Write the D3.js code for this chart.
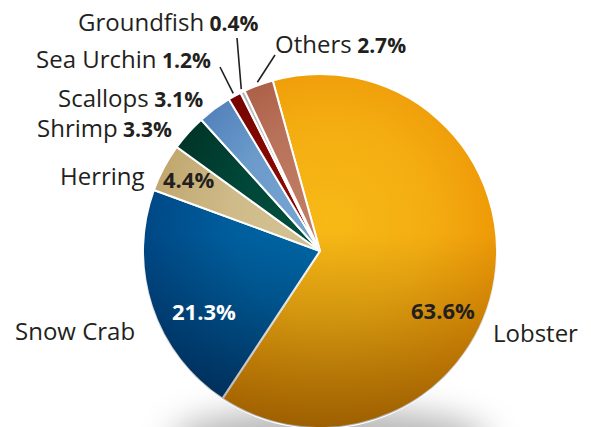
<!DOCTYPE html>
<html lang="en">
<head>
<meta charset="utf-8">
<title>Landed value by species</title>
<script src="https://d3js.org/d3.v7.min.js"></script>
<style>
  body { margin: 0; background: #fff; }
  svg { display: block; }
  text { font-family: "Open Sans", sans-serif; fill: #231f20; }
</style>
</head>
<body>
<svg id="chart" width="591" height="427"></svg>
<script>
// data (share of total, %)
const species = ["Lobster", "Snow Crab", "Herring", "Shrimp", "Scallops", "Sea Urchin", "Groundfish", "Others"];
const shares = [63.6, 21.3, 4.4, 3.3, 3.1, 1.2, 0.4, 2.7];

// slice colours: light centre and darker rim
const lightColors = ["#f7b916", "#0068a8", "#d6c597", "#00503f", "#7aa8d4", "#8c0a00", "#cccccc", "#c27f66"];
const darkColors  = ["#e98a00", "#003f7c", "#b89c60", "#00281f", "#3f6eae", "#680000", "#a9a9a9", "#9f4b34"];

// where the labels sit
const labelLayout = {
  "Lobster":    { nx: 493, ny: 342, vx: 411, vy: 319, vfill: "#231f20" },
  "Snow Crab":  { nx: 15,  ny: 340, vx: 172, vy: 320, vfill: "#ffffff" },
  "Herring":    { nx: 60,  ny: 185, vx: 163, vy: 188, vfill: "#231f20" },
  "Shrimp":     { nx: 37,  ny: 137, inline: true },
  "Scallops":   { nx: 58,  ny: 107, inline: true },
  "Sea Urchin": { nx: 36,  ny: 68,  inline: true, lx: 220, ly: 67 },
  "Groundfish": { nx: 78,  ny: 31,  inline: true, lx: 237, ly: 38 },
  "Others":     { nx: 275, ny: 53,  inline: true, lx: 275, ly: 55 }
};

const svg = d3.select("#chart");
const cx = 320, cy = 251, radius = 177;
const start = -15.5 * Math.PI / 180;

const defs = svg.append("defs");

// soft shadow under the pie
defs.append("filter").attr("id", "blur")
  .attr("x", "-50%").attr("y", "-50%").attr("width", "200%").attr("height", "200%")
  .append("feGaussianBlur").attr("stdDeviation", 16);

svg.append("ellipse")
  .attr("cx", cx + 10).attr("cy", cy + radius + 12)
  .attr("rx", 160).attr("ry", 32)
  .attr("fill", "#9a9a9a")
  .attr("opacity", 0.7)
  .attr("filter", "url(#blur)");

// one radial gradient per slice (coordinates relative to the pie centre)
species.forEach((s, i) => {
  const g = defs.append("radialGradient")
    .attr("id", "grad" + i)
    .attr("gradientUnits", "userSpaceOnUse")
    .attr("cx", 10).attr("cy", -30).attr("r", 220);
  g.append("stop").attr("offset", 0).attr("stop-color", lightColors[i]);
  g.append("stop").attr("offset", 0.45).attr("stop-color", d3.interpolateRgb(lightColors[i], darkColors[i])(0.25));
  g.append("stop").attr("offset", 1).attr("stop-color", darkColors[i]);
});

// darkening toward the bottom of the pie
const shade = defs.append("linearGradient").attr("id", "shade")
  .attr("x1", 0).attr("y1", 0).attr("x2", 0).attr("y2", 1);
shade.append("stop").attr("offset", 0.45).attr("stop-color", "#000").attr("stop-opacity", 0);
shade.append("stop").attr("offset", 1).attr("stop-color", "#000").attr("stop-opacity", 0.33);

const pie = d3.pie().sort(null).value(d => d)
  .startAngle(start).endAngle(start + 2 * Math.PI);
const arcs = pie(shares);
const arc = d3.arc().innerRadius(0).outerRadius(radius);

const g = svg.append("g").attr("transform", `translate(${cx},${cy})`);

g.selectAll("path.slice")
  .data(arcs)
  .enter().append("path")
  .attr("class", "slice")
  .attr("d", arc)
  .attr("fill", (d, i) => `url(#grad${i})`)
  .attr("stroke", "#fff")
  .attr("stroke-width", 2)
  .attr("stroke-linejoin", "round");

g.append("circle")
  .attr("r", radius)
  .attr("fill", "url(#shade)")
  .style("pointer-events", "none");

// leader lines for the thin slices
const lineArc = d3.arc().innerRadius(radius + 3).outerRadius(radius + 3);
arcs.forEach((d, i) => {
  const L = labelLayout[species[i]];
  if (L.lx === undefined) return;
  const p = lineArc.centroid(d);
  svg.append("line")
    .attr("x1", L.lx).attr("y1", L.ly)
    .attr("x2", cx + p[0]).attr("y2", cy + p[1])
    .attr("stroke", "#231f20")
    .attr("stroke-width", 1.6);
});

// labels
species.forEach((s, i) => {
  const L = labelLayout[s];
  const t = svg.append("text")
    .attr("x", L.nx).attr("y", L.ny)
    .attr("font-size", 24);
  t.append("tspan").text(s);
  if (L.inline) {
    t.append("tspan")
      .attr("font-weight", "bold")
      .attr("font-size", 21)
      .text(" " + shares[i] + "%");
  } else {
    svg.append("text")
      .attr("x", L.vx).attr("y", L.vy)
      .attr("font-size", 22)
      .attr("font-weight", "bold")
      .style("fill", L.vfill)
      .text(shares[i] + "%");
  }
});
</script>
</body>
</html>
